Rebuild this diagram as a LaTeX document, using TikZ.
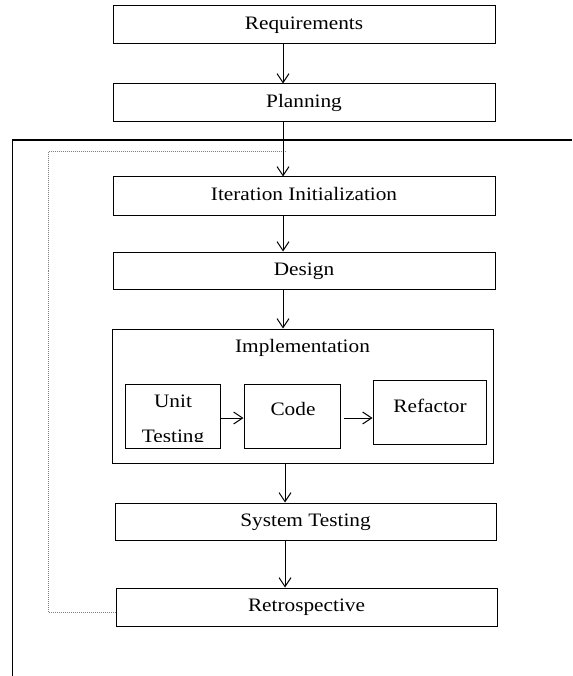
\documentclass[tikz,border=0pt]{standalone}
\usepackage{fontspec}
\setmainfont{Liberation Serif}[FakeStretch=1.12]
\usetikzlibrary{arrows.meta}
\begin{document}
\begin{tikzpicture}[x=1pt,y=-1pt,
  txt/.style={font=\fontsize{19}{22}\selectfont},
  box/.style={draw, line width=1pt, inner sep=0pt, minimum width=382pt, minimum height=38pt, text height=12pt, text depth=2.5pt, txt},
  lbl/.style={anchor=base, inner sep=0pt, txt},
  arr/.style={draw, line width=1pt, -{Straight Barb[length=9pt,width=12pt]}},
  frame/.style={draw, line width=1.5pt},
  loop/.style={draw, gray, densely dotted, line width=1pt}]
\fill[white] (0,0) rectangle (572,676);
\useasboundingbox (0,0) rectangle (572,676);

% boxes
\node[box] (req) at (304,25) {Requirements};
\node[box] (plan) at (304,103) {Planning};
\node[box] (iter) at (304,196) {Iteration Initialization};
\node[box, minimum height=37pt] (design) at (304,270.5) {Design};
\node[box, minimum width=381pt, minimum height=134pt] (impl) at (302.5,396) {};
\node[lbl] (impltxt) at (302.5,352.5) {Implementation};
\node[box, minimum width=95pt, minimum height=64pt] (unit) at (172.5,416) {};
\node[box, minimum width=96pt, minimum height=64pt] (code) at (292,416) {};
\node[box, minimum width=113pt, minimum height=64pt] (refac) at (429.5,412) {};
\node[box, minimum width=381pt, minimum height=37pt] (sys) at (305.5,521.5) {System Testing};
\node[box, minimum width=381pt, minimum height=38pt] (retro) at (306.5,607) {Retrospective};

% inner texts
\begin{scope}
  \clip (125.5,384.5) rectangle (219.5,441.5);
  \node[lbl] (unittxt1) at (173,407.5) {Unit};
  \node[lbl] (unittxt2) at (173,442) {Testing};
\end{scope}
\node[lbl] (codetxt) at (293,415.5) {Code};
\node[lbl] (refactxt) at (430,412.5) {Refactor};

% frame
\coordinate (fr1) at (572,140);
\coordinate (fr2) at (12.5,140);
\coordinate (fr3) at (12.5,676);
\draw[frame] (fr1) -- (fr2) -- (fr3);

% feedback loop
\coordinate (ax) at (283,0);
\coordinate (bx) at (285,0);
\coordinate (lc) at (48,152);
\draw[loop] ([yshift=-5pt]retro.west) -| (lc) -- (lc -| bx);

% arrows
\draw[arr] (ax |- req.south) -- (ax |- plan.north);
\draw[arr] (ax |- plan.south) -- (ax |- iter.north);
\draw[arr] (ax |- iter.south) -- (ax |- design.north);
\draw[arr] (ax |- design.south) -- (ax |- impl.north);
\draw[arr] (bx |- impl.south) -- (bx |- sys.north);
\draw[arr] (bx |- sys.south) -- (bx |- retro.north);
\draw[arr] ([yshift=-2pt]unit.east) -- ([yshift=-2pt]code.west);
\draw[arr, shorten <=3.5pt] ([yshift=-2pt]code.east) -- ([yshift=-2pt]code.east -| refac.west);
\end{tikzpicture}
\end{document}
